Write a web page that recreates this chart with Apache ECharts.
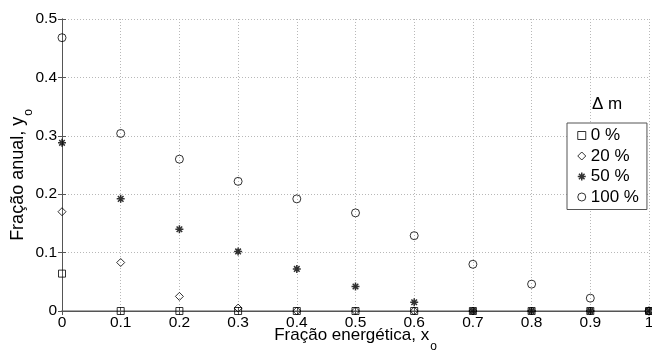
<!DOCTYPE html>
<html>
<head>
<meta charset="utf-8">
<script src="https://cdn.jsdelivr.net/npm/echarts@6/dist/echarts.min.js"></script>
<style>
html,body{margin:0;padding:0;background:#fff;}
#c{width:652px;height:350px;}
</style>
</head>
<body>
<div id="c"></div>
<script>
var xValues = [0, 0.1, 0.2, 0.3, 0.4, 0.5, 0.6, 0.7, 0.8, 0.9, 1.0];
var seriesNames = ['0 %', '20 %', '50 %', '100 %'];
var y0 =   [0.064, 0.000, 0.000, 0.000, 0.000, 0.000, 0.000, 0.000, 0.000, 0.000, 0.000];
var y20 =  [0.170, 0.083, 0.025, 0.005, 0.000, 0.000, 0.000, 0.000, 0.000, 0.000, 0.000];
var y50 =  [0.288, 0.192, 0.140, 0.102, 0.072, 0.042, 0.015, 0.000, 0.000, 0.000, 0.000];
var y100 = [0.468, 0.304, 0.260, 0.222, 0.192, 0.168, 0.129, 0.080, 0.046, 0.022, 0.000];
var xTickLabels = ['0','0.1','0.2','0.3','0.4','0.5','0.6','0.7','0.8','0.9','1'];
var yTickLabels = ['0','0.1','0.2','0.3','0.4','0.5'];

function pairs(ys){ return xValues.map(function(x,i){ return [x, ys[i]]; }); }

var STAR = 'path://M0,-10 L0,10 M-10,0 L10,0 M-7,-7 L7,7 M-7,7 L7,-7';
var FONT = 'Liberation Sans, Arial, sans-serif';

function sc(name, ys, symbol, size, bw){
  return {
    name: name, type: 'scatter', data: pairs(ys), symbol: symbol, symbolSize: size,
    clip: false,
    itemStyle: { color: 'rgba(0,0,0,0)', borderColor: '#000', borderWidth: bw },
    emphasis: { disabled: true }
  };
}
function titleRich(fs){
  return {
    s: { fontFamily: FONT, fontSize: fs, color: '#000', verticalAlign: 'top', lineHeight: fs },
    o: { fontFamily: FONT, fontSize: 12, color: '#000', verticalAlign: 'middle', lineHeight: 40, padding: [0, 0, 0, 1] }
  };
}

var chart = echarts.init(document.getElementById('c'), null, {renderer: 'canvas'});
var gridSplit = { show: true, lineStyle: { color: '#b8b8b8', type: [1, 2], width: 1 } };
chart.setOption({
  animation: false,
  backgroundColor: '#fff',
  grid: { left: 62, right: 3, top: 19, bottom: 39, containLabel: false, outerBoundsMode: 'none' },
  xAxis: [{
    type: 'value', min: 0, max: 1, interval: 0.1, position: 'bottom',
    name: '{s|Fração energética, x}{o|o}',
    nameLocation: 'middle', nameGap: 16, nameMoveOverlap: false,
    nameTextStyle: { fontFamily: FONT, fontSize: 17, color: '#000', rich: titleRich(17) },
    axisLine: { show: true, lineStyle: { color: '#a8a8a8', width: 2 } },
    axisTick: { show: true, inside: true, length: 4, lineStyle: { color: '#555' } },
    axisLabel: { fontFamily: FONT, fontSize: 15.5, color: '#000', margin: 4,
      formatter: function(v){ return xTickLabels[Math.round(v*10)]; } },
    splitLine: gridSplit
  }, {
    type: 'value', min: 0, max: 1, interval: 0.1, position: 'top',
    axisLine: { show: true, lineStyle: { color: '#555', width: 1 } },
    axisTick: { show: true, inside: true, length: 4, lineStyle: { color: '#555' } },
    axisLabel: { show: false }, splitLine: { show: false }
  }],
  yAxis: [{
    type: 'value', min: 0, max: 0.5, interval: 0.1, position: 'left',
    name: '{s|Fração anual, y}{o|o}',
    nameLocation: 'middle', nameGap: 13, nameRotate: 90, nameMoveOverlap: false,
    nameTextStyle: { fontFamily: FONT, fontSize: 18, color: '#000', rich: titleRich(18), padding: [0, 20, 0, 0] },
    axisLine: { show: true, lineStyle: { color: '#555', width: 1 } },
    axisTick: { show: true, inside: true, length: 4, lineStyle: { color: '#555' } },
    axisLabel: { fontFamily: FONT, fontSize: 15.5, color: '#000', margin: 5,
      formatter: function(v){ return yTickLabels[Math.round(v*10)]; } },
    splitLine: gridSplit
  }, {
    type: 'value', min: 0, max: 0.5, interval: 0.1, position: 'right',
    axisLine: { show: true, lineStyle: { color: '#555', width: 1 } },
    axisTick: { show: true, inside: true, length: 4, lineStyle: { color: '#555' } },
    axisLabel: { show: false }, splitLine: { show: false }
  }],
  legend: {
    orient: 'vertical', left: 567, top: 123,
    backgroundColor: '#fff', borderColor: '#555', borderWidth: 1,
    padding: [4, 8, 4, 10], itemGap: 3.5, itemWidth: 8, itemHeight: 8,
    textStyle: { fontFamily: FONT, fontSize: 17, color: '#000' },
    data: [
      { name: '0 %', icon: 'rect', itemStyle: { color: 'rgba(0,0,0,0)', borderColor: '#000', borderWidth: 1 } },
      { name: '20 %', icon: 'diamond', itemStyle: { color: 'rgba(0,0,0,0)', borderColor: '#000', borderWidth: 1 } },
      { name: '50 %', icon: STAR, itemStyle: { color: 'rgba(0,0,0,0)', borderColor: '#000', borderWidth: 1.5 } },
      { name: '100 %', icon: 'circle', itemStyle: { color: 'rgba(0,0,0,0)', borderColor: '#000', borderWidth: 1 } }
    ]
  },
  graphic: [{
    type: 'text', left: 592, top: 96, z: 100,
    style: { text: 'Δ m', fontFamily: FONT, fontSize: 17, fill: '#000' }
  }],
  series: [
    sc(seriesNames[0], y0, 'rect', 7, 1),
    sc(seriesNames[1], y20, 'diamond', 8, 1),
    sc(seriesNames[2], y50, STAR, 8, 1.5),
    sc(seriesNames[3], y100, 'circle', 8, 1)
  ]
});
</script>
</body>
</html>
